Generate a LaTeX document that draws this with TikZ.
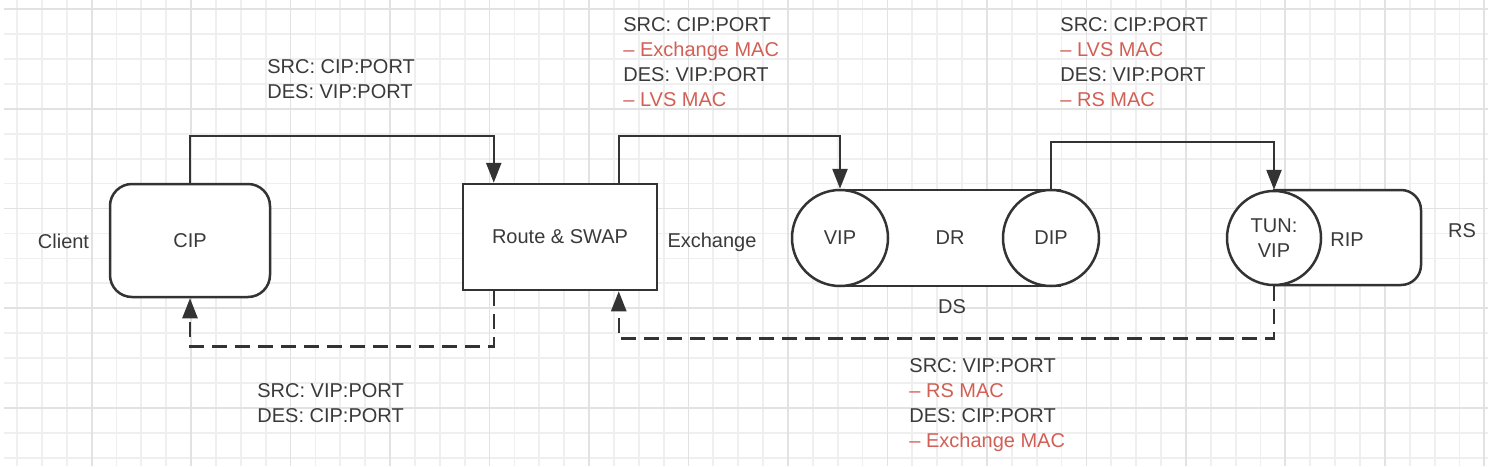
\documentclass[tikz,border=0pt]{standalone}
\usepackage{fontspec}
\setmainfont{Liberation Sans}
\usetikzlibrary{arrows.meta,calc}
\definecolor{ink}{HTML}{333333}
\definecolor{txt}{HTML}{3A3A3A}
\definecolor{redtxt}{RGB}{210,95,85}
\definecolor{gridminor}{HTML}{EFEFEF}
\definecolor{gridmajor}{HTML}{E2E2E2}
\begin{document}
\begin{tikzpicture}[x=0.5pt,y=-0.5pt,
  shapeline/.style={draw=ink, line width=1.25pt, fill=white, inner sep=0pt,
    text=txt, font=\fontsize{10pt}{12.6pt}\selectfont},
  flow/.style={draw=ink, line width=1.25pt, -{Triangle[length=10pt,width=7.5pt]}},
  back/.style={flow, dash pattern=on 7.5pt off 4pt},
  txtnode/.style={text=txt, font=\fontsize{10pt}{12.6pt}\selectfont, inner sep=0pt},
  lbl/.style={txtnode, align=left, anchor=north west},
  gline/.style={draw=gridminor, line width=0.9pt},
  gmajor/.style={draw=gridmajor, line width=0.9pt}]
\useasboundingbox (0,0) rectangle (1488,466);
\fill[white] (0,0) rectangle (1488,466);
% grid
\foreach \k in {0,...,59} {\draw[gline] ({17+24.87*\k},0) -- ({17+24.87*\k},466);}
\foreach \k in {0,...,18} {\draw[gline] (4,{9+24.94*\k}) -- (1488,{9+24.94*\k});}
\foreach \k in {3,7,...,59} {\draw[gmajor] ({17+24.87*\k},0) -- ({17+24.87*\k},466);}
\foreach \k in {0,4,...,16} {\draw[gmajor] (4,{9+24.94*\k}) -- (1488,{9+24.94*\k});}

% client
\node[txtnode, anchor=base] (client) at (63.5,248) {Client};
\node[shapeline, rounded corners=11pt, minimum width=80pt, minimum height=56.5pt] (cip) at (190,240.5) {CIP};

% route
\node[shapeline, minimum width=97pt, minimum height=53pt] (route) at (560,237) {Route \& SWAP};
\node[txtnode, anchor=base] (exch) at (712,247) {Exchange};

% DS
\node[shapeline, minimum width=110pt, minimum height=48pt] (dsbody) at (950,238) {DR};
\node[shapeline, circle, minimum size=48pt] (vip) at (840,238) {VIP};
\node[shapeline, circle, minimum size=48pt] (dip) at (1051,238) {DIP};
\node[txtnode, anchor=base] (ds) at (952,313) {DS};

% RS
\path[shapeline] (1274,190) -- (1401,190) arc[start angle=90, end angle=0, radius=10pt]
  -- (1421,265) arc[start angle=0, end angle=-90, radius=10pt] -- (1274,285) -- cycle;
\node[txtnode, anchor=base] (rip) at (1347,246) {RIP};
\node[shapeline, circle, minimum size=47pt, align=center] (tun) at (1274,238) {TUN:\\VIP};
\node[txtnode, anchor=base] (rs) at (1462,237) {RS};

% connectors
\draw[flow] (cip.north) -- ++(0,-47) -| ([xshift=16pt]route.north west);
\draw[flow] ([xshift=78.5pt]route.north west) -- ++(0,-47) -| (vip.north);
\draw[flow] (dip.north) -- ++(0,-47) -| (tun.north);
\draw[back] ([xshift=16pt]route.south west) -- ++(0,55) -| (cip.south);
\draw[back] (tun.south) -- ++(0,52) -| ([xshift=78.5pt]route.south west);

% labels
\node[lbl] (l1) at (267,59) {SRC: CIP:PORT\\DES: VIP:PORT};
\node[lbl] (l2) at (623,17) {SRC: CIP:PORT\\{\color{redtxt}– Exchange MAC}\\DES: VIP:PORT\\{\color{redtxt}– LVS MAC}};
\node[lbl] (l3) at (1060,17) {SRC: CIP:PORT\\{\color{redtxt}– LVS MAC}\\DES: VIP:PORT\\{\color{redtxt}– RS MAC}};
\node[lbl] (l4) at (257,383) {SRC: VIP:PORT\\DES: CIP:PORT};
\node[lbl] (l5) at (909,358) {SRC: VIP:PORT\\{\color{redtxt}– RS MAC}\\DES: CIP:PORT\\{\color{redtxt}– Exchange MAC}};
\end{tikzpicture}
\end{document}
